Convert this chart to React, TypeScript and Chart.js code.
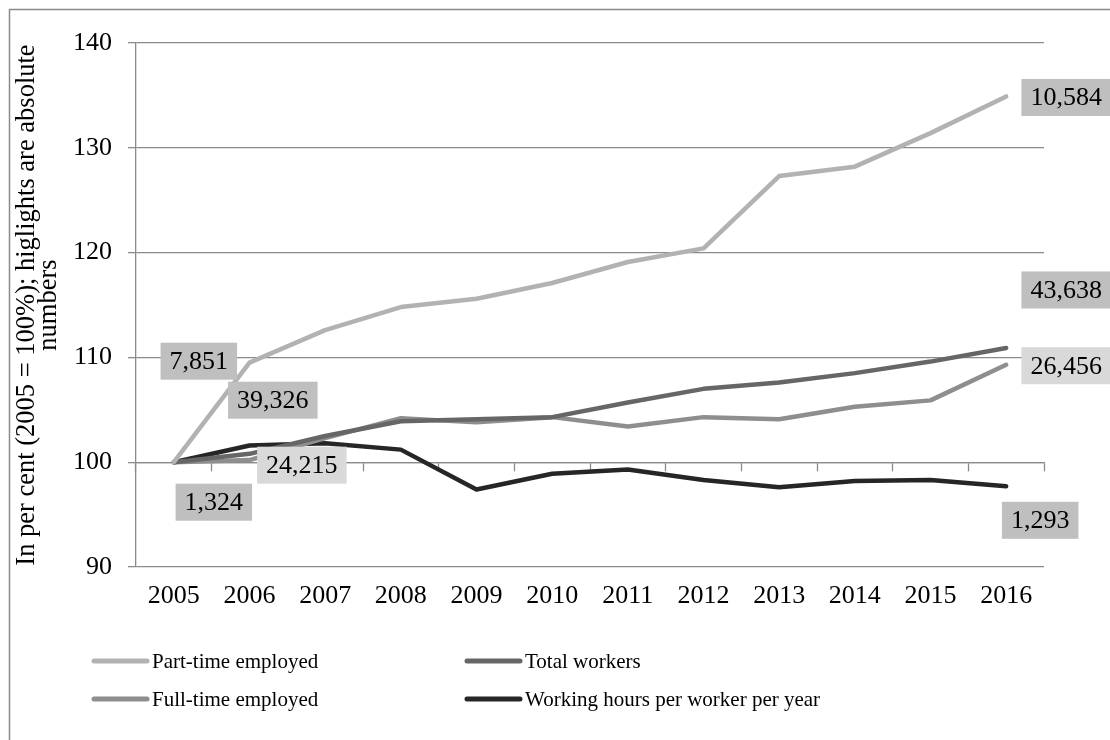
import React, { useEffect, useRef } from 'react';
import { Chart, registerables } from 'chart.js';

Chart.register(...registerables);

// ---------- data ----------
const years = ['2005', '2006', '2007', '2008', '2009', '2010', '2011', '2012', '2013', '2014', '2015', '2016'];
const partTime = [100, 109.5, 112.6, 114.8, 115.6, 117.1, 119.1, 120.4, 127.3, 128.2, 131.4, 134.9];
const totalWorkers = [100, 100.8, 102.5, 103.9, 104.1, 104.3, 105.7, 107.0, 107.6, 108.5, 109.6, 110.9];
const fullTime = [100, 100.2, 102.3, 104.2, 103.8, 104.3, 103.4, 104.3, 104.1, 105.3, 105.9, 109.3];
const workingHours = [100, 101.6, 101.8, 101.2, 97.4, 98.9, 99.3, 98.3, 97.6, 98.2, 98.3, 97.7];
const seriesNames = ['Part-time employed', 'Total workers', 'Full-time employed', 'Working hours per worker per year'];
const startHighlights = ['7,851', '39,326', '24,215', '1,324'];
const endHighlights = ['10,584', '43,638', '26,456', '1,293'];
const yTitle = ['In per cent (2005 = 100%); higlights are absolute', 'numbers'];
const yMin = 90;
const yMax = 140;
const yStep = 5;

// ---------- styles ----------
const FONT = '"Liberation Serif", "Times New Roman", serif';
const seriesColors = ['#b2b2b2', '#666666', '#8e8e8e', '#262626'];
const highlightBg = ['#bfbfbf', '#bfbfbf', '#d9d9d9', '#bfbfbf'];
// label centre offsets (px) from the first / last point of each series
const startOffsets = [[25, -101], [99, -62], [128, 3], [40, 40]];
const endOffsets = [[60, 1], [60, -58], [60, 1], [34, 34]];
// legend layout (2 columns x 2 rows)
const legendCols = [92, 465];
const legendRows = [661, 699];

const framePlugin = {
  id: 'frame',
  beforeDraw(chart: any) {
    const { ctx, width, height } = chart;
    ctx.save();
    ctx.fillStyle = '#ffffff';
    ctx.fillRect(0, 0, width, height);
    ctx.strokeStyle = '#8a8a8a';
    ctx.lineWidth = 1.5;
    ctx.strokeRect(9.5, 9.5, width + 50, height + 50);
    ctx.restore();
  },
};

const highlightPlugin = {
  id: 'highlights',
  afterDatasetsDraw(chart: any) {
    const { ctx } = chart;
    ctx.save();
    ctx.font = `26px ${FONT}`;
    ctx.textAlign = 'center';
    ctx.textBaseline = 'middle';
    const draw = (text: string, x: number, y: number, bg: string) => {
      const w = ctx.measureText(text).width + 18;
      const h = 37;
      ctx.fillStyle = bg;
      ctx.fillRect(x - w / 2, y - h / 2, w, h);
      ctx.fillStyle = '#000000';
      ctx.fillText(text, x, y + 1);
    };
    chart.data.datasets.forEach((ds: any, i: number) => {
      const meta = chart.getDatasetMeta(i);
      const first = meta.data[0];
      const last = meta.data[meta.data.length - 1];
      draw(startHighlights[i], first.x + startOffsets[i][0], first.y + startOffsets[i][1], highlightBg[i]);
      draw(endHighlights[i], last.x + endOffsets[i][0], last.y + endOffsets[i][1], highlightBg[i]);
    });
    ctx.restore();
  },
};

const legendPlugin = {
  id: 'customLegend',
  afterDraw(chart: any) {
    const { ctx } = chart;
    ctx.save();
    ctx.font = `21px ${FONT}`;
    ctx.textBaseline = 'middle';
    ctx.textAlign = 'left';
    chart.data.datasets.forEach((ds: any, i: number) => {
      const x = legendCols[i % 2];
      const y = legendRows[Math.floor(i / 2)];
      ctx.strokeStyle = ds.borderColor;
      ctx.lineWidth = 5;
      ctx.lineCap = 'round';
      ctx.beginPath();
      ctx.moveTo(x + 2, y);
      ctx.lineTo(x + 55, y);
      ctx.stroke();
      ctx.fillStyle = '#000000';
      ctx.fillText(ds.label, x + 60, y + 1);
    });
    ctx.restore();
  },
};

export default function App() {
  const ref = useRef<HTMLCanvasElement | null>(null);

  useEffect(() => {
    if (!ref.current) return;
    const series = [partTime, totalWorkers, fullTime, workingHours];
    const chart = new Chart(ref.current, {
      type: 'line',
      data: {
        labels: years,
        datasets: series.map((d, i) => ({
          label: seriesNames[i],
          data: d,
          borderColor: seriesColors[i],
          backgroundColor: seriesColors[i],
          borderWidth: 4.5,
          pointRadius: 0,
          pointHoverRadius: 0,
          tension: 0,
          borderCapStyle: 'round',
          borderJoinStyle: 'round',
          fill: false,
        })),
      },
      options: {
        responsive: false,
        animation: false,
        events: [],
        layout: { padding: { left: 9, top: 43, right: 66, bottom: 0 } },
        plugins: {
          legend: { display: false },
          tooltip: { enabled: false },
          title: { display: false },
        },
        scales: {
          x: {
            type: 'category',
            position: 'bottom',
            offset: true,
            grid: { display: false, drawTicks: false },
            border: { display: false },
            ticks: {
              autoSkip: false,
              maxRotation: 0,
              padding: 14,
              color: '#000000',
              font: { family: FONT, size: 26 },
            },
            afterFit: (scale: any) => {
              scale.height = 173;
            },
          },
          xAxis100: {
            type: 'category',
            axis: 'x',
            position: { y: 100 },
            offset: true,
            grid: {
              display: true,
              offset: true,
              drawOnChartArea: false,
              drawTicks: true,
              tickLength: 8,
              tickColor: '#8a8a8a',
              tickWidth: 1.3,
              color: '#8a8a8a',
            },
            border: { display: true, color: '#8a8a8a', width: 1.3 },
            ticks: { display: false },
          },
          y: {
            type: 'linear',
            position: 'left',
            min: yMin,
            max: yMax,
            ticks: {
              stepSize: yStep,
              padding: 16,
              color: '#000000',
              font: { family: FONT, size: 26 },
              callback: (v: any) => (Number(v) % 10 === 0 ? String(v) : null),
            },
            grid: {
              color: (c: any) => (c.tick && c.tick.value % 10 === 0 ? '#8a8a8a' : '#c4c4c4'),
              lineWidth: 1.3,
              drawTicks: true,
              tickLength: 8,
              tickColor: (c: any) => (c.tick && c.tick.value % 10 === 0 ? '#8a8a8a' : 'rgba(0,0,0,0)'),
            },
            border: { display: true, color: '#8a8a8a', width: 1.3 },
            title: {
              display: true,
              text: yTitle,
              color: '#000000',
              font: { family: FONT, size: 26.5, lineHeight: 0.82 },
              padding: { top: 7, bottom: 0 },
            },
            afterFit: (scale: any) => {
              scale.width = 127;
            },
          },
        },
      },
      plugins: [framePlugin, highlightPlugin, legendPlugin],
    } as any);
    return () => chart.destroy();
  }, []);

  return (
    <div style={{ position: 'fixed', left: 0, top: 0, width: 1110, height: 740, overflow: 'hidden', background: '#fff' }}>
      <canvas ref={ref} width={1110} height={740} style={{ width: 1110, height: 740, display: 'block' }} />
    </div>
  );
}
